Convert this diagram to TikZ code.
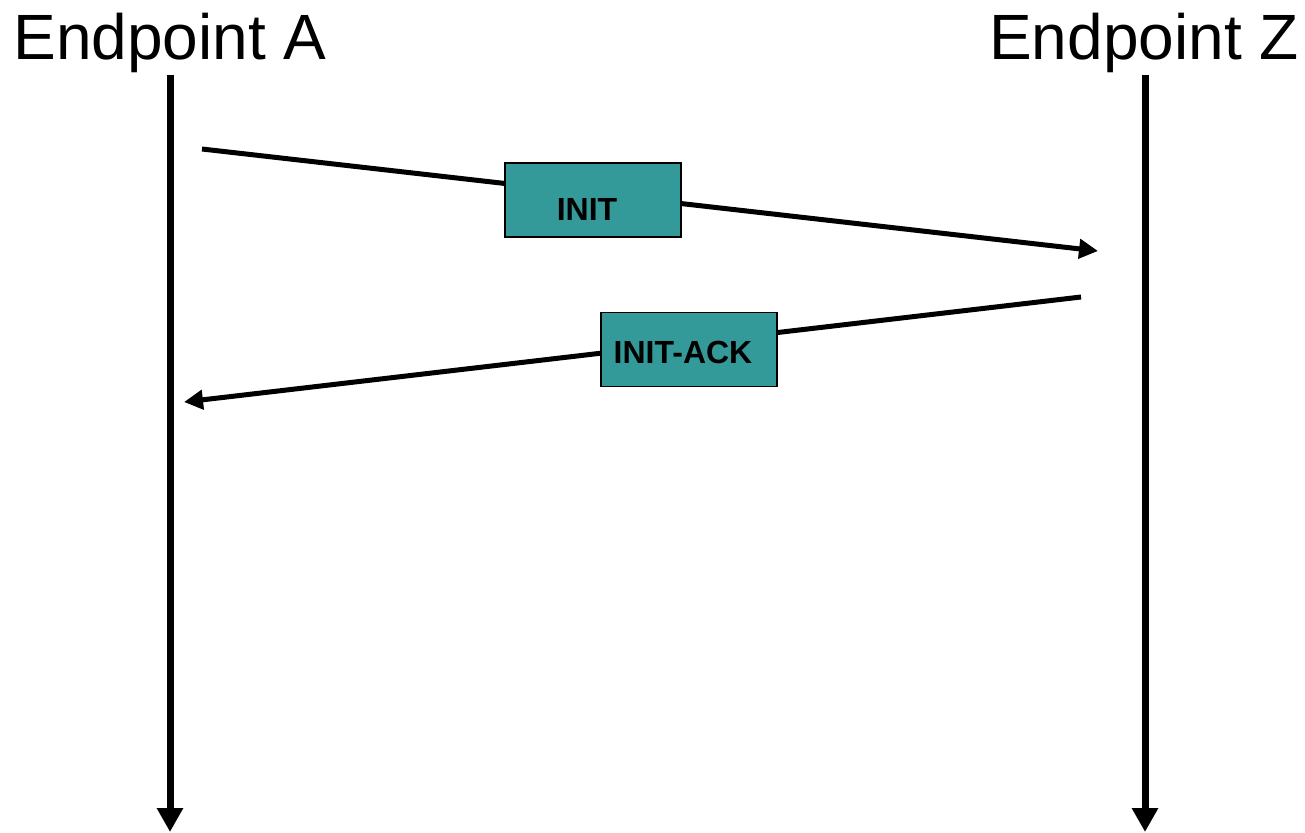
\documentclass[tikz,border=0pt]{standalone}
\usepackage{fontspec}
\setmainfont{Liberation Sans}
\usetikzlibrary{arrows.meta}
\definecolor{msgteal}{HTML}{339999}
\tikzset{
  title/.style={anchor=base, inner sep=0pt, font=\fontsize{64}{64}\selectfont},
  lifeline/.style={line width=7pt, -{Triangle[length=24pt,width=25pt]}},
  msg/.style={line width=5pt, -{Triangle[length=19pt,width=19pt]}},
  msgbox/.style={draw=black, line width=1.5pt, fill=msgteal,
    minimum width=176pt, minimum height=74pt, inner sep=0pt},
  msglabel/.style={inner sep=0pt, font=\bfseries\fontsize{32}{32}\selectfont}
}
\begin{document}
\begin{tikzpicture}[x=1pt,y=-1pt]
\useasboundingbox (0,0) rectangle (1305,832);
% endpoint titles
\node[title] (ta) at (170,60) {Endpoint A};
\node[title] (tz) at (1144,60) {Endpoint Z};
% lifelines
\coordinate (a0) at (170,75);
\coordinate (a1) at (170,832);
\coordinate (z0) at (1145,75);
\coordinate (z1) at (1145,832);
\draw[lifeline] (a0) -- (a1);
\draw[lifeline] (z0) -- (z1);
% INIT message
\coordinate (m1s) at (202,149);
\coordinate (m1e) at (1098,251);
\draw[msg] (m1s) -- (m1e);
\node[msgbox] (b1) at (593,200) {};
\node[msglabel] (l1) at (587,209) {INIT};
% INIT-ACK message
\coordinate (m2s) at (1081,297);
\coordinate (m2e) at (184,402);
\draw[msg] (m2s) -- (m2e);
\node[msgbox] (b2) at (689,349.5) {};
\node[msglabel] (l2) at (683,352) {INIT-ACK};
\end{tikzpicture}
\end{document}
